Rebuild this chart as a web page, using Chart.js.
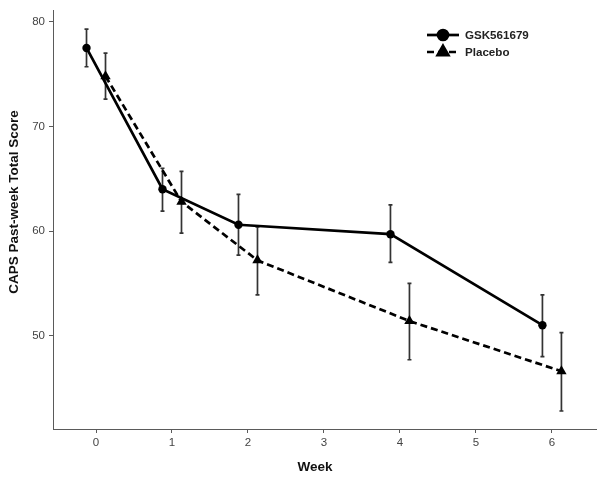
<!DOCTYPE html>
<html>
<head>
<meta charset="utf-8">
<script src="https://cdn.jsdelivr.net/npm/chart.js@4.4.1/dist/chart.umd.min.js"></script>
<style>
  html, body { margin: 0; padding: 0; background: #fff; }
  #wrap { width: 604px; height: 481px; }
</style>
</head>
<body>
<div id="wrap"><canvas id="c" width="604" height="481"></canvas></div>
<script>
// values (mean and error bar ends)
var weeks = [0, 1, 2, 4, 6];
var gskMean = [77.5, 64.0, 60.6, 59.7, 51.0];
var gskLow  = [75.7, 61.9, 57.7, 57.0, 48.0];
var gskHigh = [79.3, 66.0, 63.5, 62.5, 53.9];
var placeboMean = [74.8, 62.8, 57.2, 51.4, 46.6];
var placeboLow  = [72.6, 59.8, 53.9, 47.7, 42.8];
var placeboHigh = [77.0, 65.7, 60.4, 55.0, 50.3];
var xTicks = [0, 1, 2, 3, 4, 5, 6];
var yTicks = [50, 60, 70, 80];
var xTitle = 'Week';
var yTitle = 'CAPS Past-week Total Score';
var dodge = 0.125;

var FONT = '"Liberation Sans", Arial, sans-serif';
var AXIS = '#5a5a5a';
var LABEL = '#444';

function points(mean, shift) {
  return weeks.map(function (w, i) { return { x: w + shift, y: mean[i] }; });
}

// error bars drawn under the lines
var errorBars = {
  id: 'errorBars',
  beforeDatasetsDraw: function (chart) {
    var ctx = chart.ctx, xs = chart.scales.x, ys = chart.scales.y;
    var sets = [[-dodge, gskLow, gskHigh], [dodge, placeboLow, placeboHigh]];
    ctx.save();
    ctx.strokeStyle = '#333';
    ctx.lineWidth = 1.7;
    sets.forEach(function (s) {
      weeks.forEach(function (w, i) {
        var px = xs.getPixelForValue(w + s[0]);
        var lo = ys.getPixelForValue(s[1][i]);
        var hi = ys.getPixelForValue(s[2][i]);
        ctx.beginPath();
        ctx.moveTo(px, lo); ctx.lineTo(px, hi);
        ctx.moveTo(px - 2, lo); ctx.lineTo(px + 2, lo);
        ctx.moveTo(px - 2, hi); ctx.lineTo(px + 2, hi);
        ctx.stroke();
      });
    });
    ctx.restore();
  }
};

// axis titles sit a little off-centre in the original
var axisTitles = {
  id: 'axisTitles',
  afterDraw: function (chart) {
    var ctx = chart.ctx;
    ctx.save();
    ctx.fillStyle = '#111';
    ctx.font = 'bold 13.5px ' + FONT;
    ctx.textAlign = 'center';
    ctx.textBaseline = 'middle';
    ctx.fillText(xTitle, 315, 467);
    ctx.translate(14, 202);
    ctx.rotate(-Math.PI / 2);
    ctx.fillText(yTitle, 0, 0);
    ctx.restore();
  }
};

// legend with line + marker like the original
var keyLegend = {
  id: 'keyLegend',
  afterDraw: function (chart) {
    var ctx = chart.ctx;
    var items = [
      { text: 'GSK561679', y: 35, dash: [], style: 'circle', r: 5 },
      { text: 'Placebo', y: 52, dash: [7, 4], style: 'triangle', r: 6.2 }
    ];
    ctx.save();
    items.forEach(function (it) {
      ctx.strokeStyle = '#000';
      ctx.lineWidth = 2.7;
      ctx.setLineDash(it.dash);
      ctx.beginPath();
      ctx.moveTo(427, it.y); ctx.lineTo(459, it.y);
      ctx.stroke();
      ctx.setLineDash([]);
      Chart.helpers.drawPoint(ctx, { pointStyle: it.style, radius: it.r, rotation: 0, borderWidth: 1 }, 443, it.y);
      ctx.fillStyle = '#000';
      ctx.fill();
      ctx.fillStyle = '#222';
      ctx.font = 'bold 11.6px ' + FONT;
      ctx.textBaseline = 'middle';
      ctx.fillText(it.text, 465, it.y + 1);
    });
    ctx.restore();
  }
};

new Chart(document.getElementById('c'), {
  type: 'line',
  data: {
    datasets: [
      {
        label: 'GSK561679',
        data: points(gskMean, -dodge),
        borderColor: '#000',
        backgroundColor: '#000',
        borderWidth: 2.7,
        pointStyle: 'circle',
        pointRadius: 4.2,
        pointBorderWidth: 0,
        tension: 0
      },
      {
        label: 'Placebo',
        data: points(placeboMean, dodge),
        borderColor: '#000',
        backgroundColor: '#000',
        borderWidth: 2.7,
        borderDash: [7, 4],
        pointStyle: 'triangle',
        pointRadius: 6,
        pointBorderWidth: 0,
        tension: 0
      }
    ]
  },
  options: {
    responsive: false,
    animation: false,
    layout: { padding: { top: 7, right: 8, left: 0, bottom: 0 } },
    plugins: { legend: { display: false }, tooltip: { enabled: false } },
    scales: {
      x: {
        type: 'linear',
        min: -0.566,
        max: 6.58,
        afterBuildTicks: function (s) { s.ticks = xTicks.map(function (v) { return { value: v }; }); },
        afterFit: function (s) { s.height = 52; },
        grid: { drawOnChartArea: false, drawTicks: true, tickLength: 4, color: AXIS },
        border: { display: true, color: AXIS, width: 1 },
        ticks: { color: LABEL, padding: 3, font: { family: FONT, size: 11.5 } }
      },
      y: {
        type: 'linear',
        min: 41.08,
        max: 81.04,
        afterBuildTicks: function (s) { s.ticks = yTicks.map(function (v) { return { value: v }; }); },
        afterFit: function (s) { s.width = 53; },
        grid: { drawOnChartArea: false, drawTicks: true, tickLength: 4, color: AXIS },
        border: { display: true, color: AXIS, width: 1 },
        ticks: { color: LABEL, padding: 4, font: { family: FONT, size: 11.5 } }
      }
    }
  },
  plugins: [errorBars, axisTitles, keyLegend]
});
</script>
</body>
</html>
